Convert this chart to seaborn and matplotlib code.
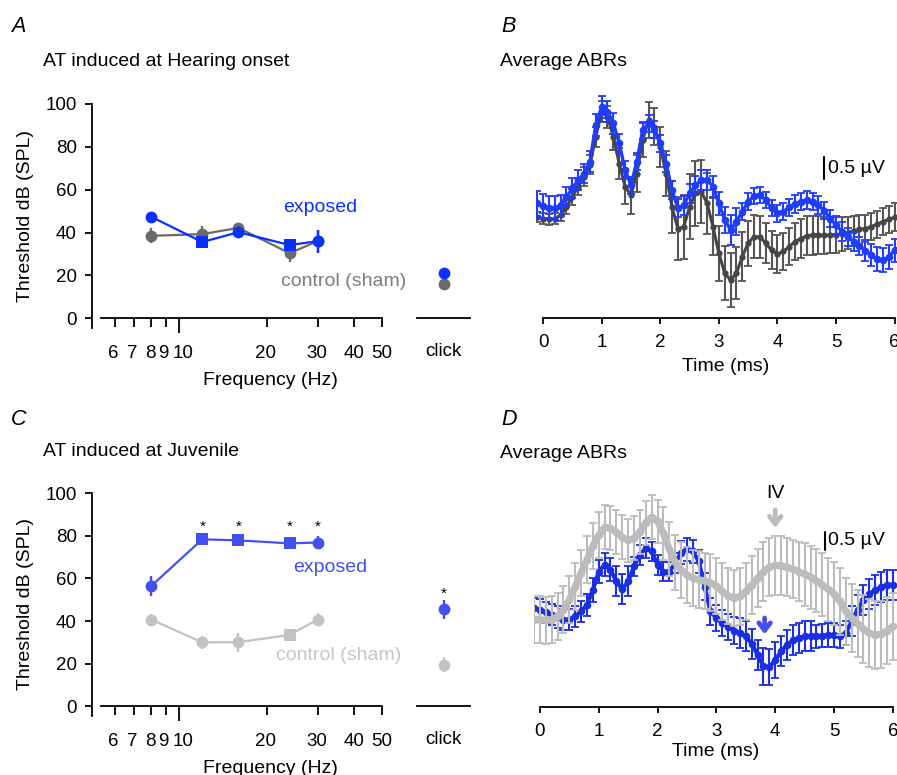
import numpy as np
import matplotlib
matplotlib.use('Agg')
import matplotlib.pyplot as plt
import matplotlib.transforms as mtransforms
import seaborn as sns
from matplotlib.ticker import FixedLocator, NullFormatter

# ---------------------------------------------------------------
# Datos: umbrales (dB SPL) por frecuencia y click
# ---------------------------------------------------------------
freqs = [8, 12, 16, 24, 30]
marcas_exp_A = ['o', 's', 'o', 's', 'o']
marcas_ctl_A = ['o', 'o', 'o', 'o', 'o']
marcas_exp_C = ['o', 's', 's', 's', 'o']
marcas_ctl_C = ['o', 'o', 'o', 's', 'o']

exp_A = [47.4, 35.6, 40.2, 34.2, 36.0]
exp_A_err = [1.0, 1.5, 1.2, 1.5, 5.3]
ctl_A = [38.5, 39.3, 42.2, 30.4, 36.0]
ctl_A_err = [3.5, 3.8, 1.0, 4.2, 5.0]
click_A_exp, click_A_exp_err = 21.1, 1.0
click_A_ctl, click_A_ctl_err = 15.8, 1.0

exp_C = [56.4, 78.3, 77.8, 76.4, 76.8]
exp_C_err = [4.5, 1.5, 2.0, 2.0, 3.2]
ctl_C = [40.7, 30.0, 30.1, 33.5, 40.7]
ctl_C_err = [2.8, 3.0, 4.5, 1.0, 3.0]
click_C_exp, click_C_exp_err = 45.5, 4.5
click_C_ctl, click_C_ctl_err = 19.6, 3.6
asteriscos_C = [12, 16, 24, 30]

# ejes de frecuencia: marcas y etiquetas (con corrimiento en px como el original)
ticks_freq = [6, 7, 8, 9, 10, 20, 30, 40, 50]
etiquetas_freq = ['6', '7', '8', '9', '10', '20', '30', '40', '50']
ajuste_px = [-2, -2, -1, -3, 4, -1, -1, 0, 0]

# ---------------------------------------------------------------
# Datos: ABR promedio (uV), muestreo cada 0.1 ms
# ---------------------------------------------------------------
t_ms = np.linspace(-0.1, 6.0, 62)

B_exp = [0.23, 0.17, 0.13, 0.12, 0.19, 0.37, 0.58, 0.77, 0.92, 1.19,
         2.04, 2.46, 2.35, 2.08, 1.62, 1.00, 0.65, 1.19, 1.92, 2.08,
         1.94, 1.62, 1.15, 0.54, 0.12, 0.19, 0.46, 0.65, 0.77, 0.77,
         0.62, 0.23, -0.15, -0.38, -0.19, 0.04, 0.27, 0.40, 0.42, 0.31,
         0.12, 0.00, 0.04, 0.14, 0.22, 0.27, 0.31, 0.27, 0.19, 0.06,
         -0.12, -0.27, -0.42, -0.54, -0.65, -0.75, -0.86, -0.96, -1.06, -1.08,
         -1.00, -0.85]
B_exp_err = [0.28, 0.28, 0.27, 0.27, 0.24, 0.23, 0.23, 0.23, 0.23, 0.24,
             0.25, 0.26, 0.25, 0.24, 0.21, 0.20, 0.20, 0.20, 0.20, 0.20,
             0.20, 0.20, 0.20, 0.20, 0.21, 0.22, 0.22, 0.22, 0.23, 0.23,
             0.24, 0.26, 0.30, 0.35, 0.32, 0.20, 0.19, 0.19, 0.19, 0.19,
             0.19, 0.20, 0.20, 0.20, 0.20, 0.20, 0.20, 0.20, 0.20, 0.20,
             0.20, 0.20, 0.21, 0.21, 0.21, 0.21, 0.24, 0.26, 0.28, 0.28,
             0.28, 0.27]
B_ctl = [-0.08, -0.12, -0.14, -0.12, -0.04, 0.15, 0.38, 0.62, 0.85, 1.12,
         1.77, 2.35, 2.23, 1.77, 1.15, 0.62, 0.42, 0.92, 1.69, 2.15,
         2.00, 1.54, 0.92, 0.15, -0.35, -0.31, 0.15, 0.46, 0.50, 0.23,
         -0.31, -0.92, -1.38, -1.54, -1.38, -1.00, -0.69, -0.54, -0.54, -0.69,
         -0.85, -0.94, -0.88, -0.77, -0.65, -0.58, -0.52, -0.50, -0.50, -0.51,
         -0.50, -0.50, -0.48, -0.45, -0.40, -0.37, -0.35, -0.31, -0.25, -0.19,
         -0.14, -0.09]
B_ctl_err = [0.12, 0.12, 0.12, 0.13, 0.14, 0.17, 0.19, 0.20, 0.21, 0.22,
             0.23, 0.24, 0.25, 0.30, 0.35, 0.40, 0.43, 0.42, 0.40, 0.42,
             0.43, 0.46, 0.52, 0.60, 0.72, 0.74, 0.75, 0.74, 0.73, 0.70,
             0.66, 0.64, 0.62, 0.62, 0.60, 0.56, 0.52, 0.50, 0.48, 0.46,
             0.44, 0.43, 0.43, 0.43, 0.43, 0.44, 0.45, 0.45, 0.44, 0.43,
             0.42, 0.41, 0.39, 0.37, 0.35, 0.33, 0.32, 0.31, 0.31, 0.31,
             0.32, 0.32]

D_exp = [-0.14, -0.18, -0.25, -0.32, -0.38, -0.45, -0.45, -0.36, -0.23, -0.05,
         0.36, 0.86, 1.05, 0.91, 0.59, 0.38, 0.59, 1.00, 1.32, 1.50,
         1.41, 1.05, 0.86, 0.86, 1.09, 1.38, 1.47, 1.41, 1.14, 0.45,
         -0.23, -0.41, -0.55, -0.65, -0.75, -0.82, -0.91, -1.11, -1.41, -1.73,
         -1.75, -1.56, -1.32, -1.14, -1.02, -0.95, -0.91, -0.91, -0.91, -0.89,
         -0.87, -0.87, -0.91, -0.82, -0.50, -0.18, 0.09, 0.25, 0.36, 0.44,
         0.49, 0.50]
D_exp_err = [0.29, 0.29, 0.29, 0.29, 0.29, 0.29, 0.29, 0.29, 0.29, 0.29,
             0.32, 0.32, 0.32, 0.32, 0.41, 0.41, 0.41, 0.27, 0.27, 0.27,
             0.27, 0.27, 0.27, 0.27, 0.27, 0.32, 0.32, 0.32, 0.32, 0.36,
             0.36, 0.36, 0.36, 0.36, 0.36, 0.41, 0.41, 0.41, 0.41, 0.50,
             0.50, 0.50, 0.41, 0.41, 0.41, 0.41, 0.41, 0.41, 0.32, 0.32,
             0.32, 0.32, 0.32, 0.32, 0.41, 0.41, 0.41, 0.41, 0.41, 0.41,
             0.41, 0.41]
D_ctl = [-0.45, -0.45, -0.47, -0.45, -0.36, -0.18, 0.09, 0.45, 0.82, 1.18,
         1.56, 1.86, 2.07, 2.05, 1.93, 1.80, 1.71, 1.77, 1.95, 2.20,
         2.35, 2.23, 1.91, 1.47, 1.11, 0.91, 0.77, 0.68, 0.64, 0.61,
         0.56, 0.47, 0.32, 0.20, 0.14, 0.18, 0.32, 0.50, 0.68, 0.86,
         0.98, 1.03, 1.02, 0.98, 0.93, 0.86, 0.79, 0.71, 0.61, 0.50,
         0.38, 0.25, 0.05, -0.23, -0.41, -0.56, -0.71, -0.82, -0.87, -0.85,
         -0.75, -0.64]
D_ctl_err = [0.64, 0.64, 0.64, 0.64, 0.64, 0.64, 0.64, 0.64, 0.64, 0.64,
             0.63, 0.62, 0.60, 0.60, 0.60, 0.60, 0.60, 0.60, 0.60, 0.60,
             0.60, 0.60, 0.72, 0.74, 0.75, 0.76, 0.77, 0.77, 0.77, 0.77,
             0.77, 0.77, 0.77, 0.77, 0.77, 0.77, 0.77, 0.80, 0.80, 0.80,
             0.80, 0.80, 0.80, 0.80, 0.80, 0.80, 0.86, 0.86, 0.86, 0.86,
             0.86, 0.86, 0.92, 0.92, 0.92, 0.92, 0.92, 0.92, 0.92, 0.92,
             0.92, 0.92]

# Colores
AZUL_A = '#0a30ff'
GRIS_A = '#6a6a6a'
AZUL_C = '#4150ee'
GRIS_C = '#c2c2c2'
AZUL_B = '#1f3cff'
GRIS_B = '#454545'
AZUL_D = '#1a2ee6'
GRIS_D = '#bcbcbc'

sns.set_style('ticks')
plt.rcParams['font.family'] = ['Liberation Sans', 'DejaVu Sans']
plt.rcParams['axes.linewidth'] = 1.3
plt.rcParams['text.color'] = 'black'
plt.rcParams['axes.labelcolor'] = 'black'
plt.rcParams['axes.edgecolor'] = 'black'
plt.rcParams['xtick.color'] = 'black'
plt.rcParams['ytick.color'] = 'black'

W, H = 897, 775
fig = plt.figure(figsize=(W / 100, H / 100), dpi=100)


def caja(l, t, r, b):
    return [l / W, 1 - b / H, (r - l) / W, (b - t) / H]


def texto(x, y, s, **kw):
    fig.text(x / W, 1 - y / H, s, **kw)


def panel_umbral(top, bottom, exp, exp_err, mk_exp, ctl, ctl_err, mk_ctl,
                 cexp, cexp_err, cctl, cctl_err, col_exp, col_ctl):
    ax = fig.add_axes(caja(92, top, 382, bottom))
    ax.set_xscale('log')
    sns.lineplot(x=freqs, y=ctl, color=col_ctl, lw=1.6, ax=ax)
    for f, m, e, mk in zip(freqs, ctl, ctl_err, mk_ctl):
        ax.errorbar(f, m, yerr=e, fmt=mk, color=col_ctl, ms=8.5, mew=0,
                    capsize=3.8, elinewidth=1.7, capthick=1.7)
    sns.lineplot(x=freqs, y=exp, color=col_exp, lw=1.6, ax=ax)
    for f, m, e, mk in zip(freqs, exp, exp_err, mk_exp):
        ax.errorbar(f, m, yerr=e, fmt=mk, color=col_exp, ms=8.5, mew=0,
                    capsize=3.8, elinewidth=1.7, capthick=1.7)
    ax.set_xlim(5, 50)
    ax.set_ylim(-4.5, 100)
    ax.set_yticks([0, 20, 40, 60, 80, 100])
    ax.xaxis.set_major_locator(FixedLocator([10]))
    ax.xaxis.set_major_formatter(NullFormatter())
    ax.xaxis.set_minor_locator(FixedLocator([6, 7, 8, 9, 20, 30, 40, 50]))
    ax.xaxis.set_minor_formatter(NullFormatter())
    ax.tick_params(axis='x', which='major', length=10.5, width=1.3)
    ax.tick_params(axis='x', which='minor', length=6.5, width=1.3)
    ax.tick_params(axis='y', length=5, width=1.3, pad=6, labelsize=13.5)
    # etiquetas de frecuencia colocadas a mano (6 7 8 9 10 muy juntas)
    trans = mtransforms.blended_transform_factory(ax.transData, ax.transAxes)
    for f, lab, dx in zip(ticks_freq, etiquetas_freq, ajuste_px):
        off = mtransforms.ScaledTranslation(dx / 100, 0, fig.dpi_scale_trans)
        ax.text(f, -0.076, lab, transform=trans + off, ha='center', va='top',
                fontsize=13.5)
    for s in ['top', 'right']:
        ax.spines[s].set_visible(False)
    ax.spines['bottom'].set_position(('data', 0))
    ax.spines['bottom'].set_bounds(5.36, 50)
    ax.set_ylabel('Threshold dB (SPL)', fontsize=14, labelpad=8)
    ax.set_xlabel('Frequency (Hz)', fontsize=14)
    ax.xaxis.set_label_coords(0.617, -0.196)

    axc = fig.add_axes(caja(417, top, 470, bottom))
    axc.set_xlim(0, 1)
    axc.set_ylim(-4.5, 100)
    axc.errorbar(0.5, cctl, yerr=cctl_err, fmt='o', color=col_ctl, ms=8.5, mew=0,
                 capsize=3.8, elinewidth=1.7, capthick=1.7)
    axc.errorbar(0.5, cexp, yerr=cexp_err, fmt='o', color=col_exp, ms=8.5, mew=0,
                 capsize=3.8, elinewidth=1.7, capthick=1.7)
    for s in ['top', 'right', 'left']:
        axc.spines[s].set_visible(False)
    axc.spines['bottom'].set_position(('data', 0))
    axc.set_yticks([])
    axc.set_xticks([0.5], ['click'])
    axc.tick_params(axis='x', length=0, pad=18, labelsize=13.5)
    return ax, axc


def panel_abr(l, top, r, bottom, xlim, ylim):
    ax = fig.add_axes(caja(l, top, r, bottom))
    ax.set_xlim(*xlim)
    ax.set_ylim(*ylim)
    for s in ['top', 'right', 'left']:
        ax.spines[s].set_visible(False)
    ax.spines['bottom'].set_bounds(0, 6)
    ax.set_yticks([])
    ax.set_xticks(range(7))
    ax.tick_params(axis='x', length=4.5, width=1.3, pad=7, labelsize=13.5)
    return ax


def traza(ax, media, err, col, ecol, lw, ms, z):
    ax.errorbar(t_ms, media, yerr=err, fmt='none', ecolor=ecol, elinewidth=1.5,
                capsize=3.0, capthick=1.3, zorder=z)
    sns.lineplot(x=t_ms, y=media, color=col, lw=lw, marker='o', markersize=ms,
                 markeredgewidth=0, ax=ax, zorder=z + 0.5)


# ---------------------------- A ----------------------------
axA, axAc = panel_umbral(104, 328, exp_A, exp_A_err, marcas_exp_A, ctl_A, ctl_A_err,
                         marcas_ctl_A, click_A_exp, click_A_exp_err, click_A_ctl,
                         click_A_ctl_err, AZUL_A, GRIS_A)
texto(283, 208, 'exposed', color=AZUL_A, fontsize=14, va='center')
texto(281, 281, 'control (sham)', color='#7d7d7d', fontsize=14, va='center')

# ---------------------------- C ----------------------------
axC, axCc = panel_umbral(493, 716, exp_C, exp_C_err, marcas_exp_C, ctl_C, ctl_C_err,
                         marcas_ctl_C, click_C_exp, click_C_exp_err, click_C_ctl,
                         click_C_ctl_err, AZUL_C, GRIS_C)
for f in asteriscos_C:
    axC.text(f, 84, '*', ha='center', va='center', fontsize=11)
axCc.text(0.5, 53, '*', ha='center', va='center', fontsize=11)
texto(293, 567, 'exposed', color=AZUL_C, fontsize=14, va='center')
texto(276, 656, 'control (sham)', color='#c6c6c6', fontsize=14, va='center')

# ---------------------------- B ----------------------------
axB = panel_abr(536, 86, 897, 318, (-0.12, 6.04), (-2.415, 2.94))
traza(axB, B_ctl, B_ctl_err, GRIS_B, '#555555', 2.2, 4.5, 2)
traza(axB, B_exp, B_exp_err, AZUL_B, AZUL_B, 2.4, 5.5, 4)
axB.plot([4.80, 4.80], [0.79, 1.29], color='black', lw=1.5)
axB.text(4.86, 1.04, '0.5 µV', fontsize=14, va='center')
axB.set_xlabel('Time (ms)', fontsize=14)
axB.xaxis.set_label_coords(0.524, -0.172)

# ---------------------------- D ----------------------------
axD = panel_abr(534, 490, 897, 707, (-0.1, 6.07), (-2.84, 3.09))
traza(axD, D_exp, D_exp_err, AZUL_D, AZUL_D, 3.0, 5.5, 2)
traza(axD, D_ctl, D_ctl_err, GRIS_D, GRIS_D, 5.0, 5.5, 4)
axD.plot([4.84, 4.84], [1.45, 1.95], color='black', lw=1.5)
axD.text(4.90, 1.70, '0.5 µV', fontsize=14, va='center')
axD.annotate('', xy=(4.0, 1.98), xytext=(4.0, 2.62),
             arrowprops=dict(arrowstyle='->,head_length=0.55,head_width=0.42',
                             color=GRIS_D, lw=3.4), annotation_clip=False)
axD.text(4.0, 3.0, 'IV', ha='center', va='center', fontsize=14, clip_on=False)
axD.annotate('', xy=(3.82, -0.93), xytext=(3.82, -0.33),
             arrowprops=dict(arrowstyle='->,head_length=0.55,head_width=0.42',
                             color='#4450ee', lw=3.4), annotation_clip=False)
axD.set_xlabel('Time (ms)', fontsize=14)
axD.xaxis.set_label_coords(0.50, -0.166)

# ---------------------------- títulos ----------------------------
texto(11, 32, 'A', fontsize=15.5, style='italic')
texto(43, 66, 'AT induced at Hearing onset', fontsize=14)
texto(501, 32, 'B', fontsize=15.5, style='italic')
texto(500, 66, 'Average ABRs', fontsize=14)
texto(11, 425, 'C', fontsize=15.5, style='italic')
texto(43, 456, 'AT induced at Juvenile', fontsize=14)
texto(501, 425, 'D', fontsize=15.5, style='italic')
texto(500, 458, 'Average ABRs', fontsize=14)

fig.savefig('out.png', dpi=100)
